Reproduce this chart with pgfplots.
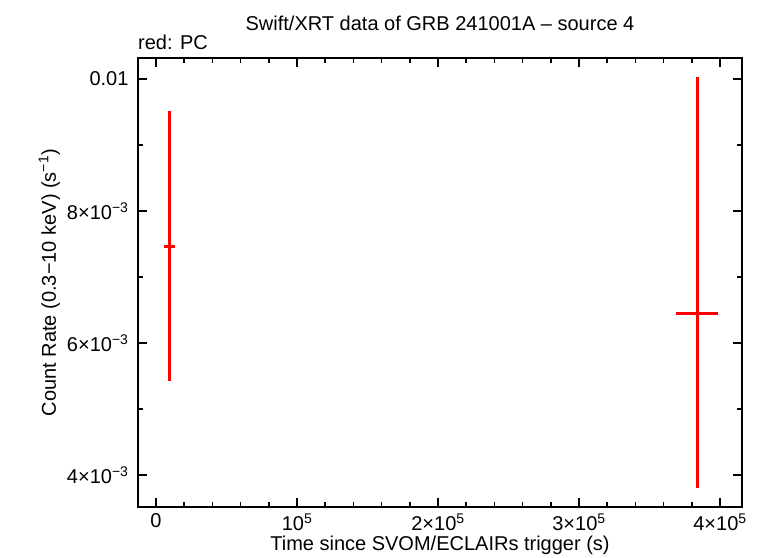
\documentclass[border=0pt]{standalone}
\usepackage{fontspec}
\setmainfont{Liberation Sans}
\usepackage{pgfplots}
\pgfplotsset{compat=1.18}
\usetikzlibrary{calc}
\begin{document}
\begin{tikzpicture}
\begin{axis}[
  scale only axis,
  width=604pt, height=449pt,
  xmin=-12800, xmax=415600,
  ymin=0.003515, ymax=0.01032,
  axis line style={line width=2.5pt},
  every tick/.style={black, line width=1.5pt},
  tick align=inside,
  major tick length=9pt, minor tick length=5pt,
  xtick={0,100000,200000,300000,400000},
  xticklabels={0, 10\textsuperscript{5}, 2×10\textsuperscript{5}, 3×10\textsuperscript{5}, 4×10\textsuperscript{5}},
  minor x tick num=4,
  ytick={0.004,0.006,0.008,0.01},
  yticklabels={4×10\textsuperscript{−3}, 6×10\textsuperscript{−3}, 8×10\textsuperscript{−3}, 0.01},
  minor ytick={0.005,0.007,0.009},
  scaled x ticks=false, scaled y ticks=false,
  tick label style={font=\fontsize{20}{22}\selectfont},
  xticklabel style={yshift=-3pt},
  yticklabel style={xshift=-6pt},
  label style={font=\fontsize{20}{22}\selectfont},
  xlabel={Time since SVOM/ECLAIRs trigger (s)},
  ylabel={Count Rate (0.3−10 keV) (s\textsuperscript{−1})},
  xlabel style={yshift=2pt},
  ylabel style={yshift=0pt},
  title={Swift/XRT data of GRB 241001A – source 4},
  title style={font=\fontsize{20}{22}\selectfont, yshift=18pt},
  clip=false,
]
\addplot[draw=none, mark=none,
  error bars/.cd, x dir=both, x explicit, y dir=both, y explicit,
  error bar style={red, line width=2.5pt}, error mark=none]
  table[x=x, y=y, x error=ex, y error plus=eyp, y error minus=eym] {
x y ex eyp eym
9430 0.007465 4000 0.002045 0.002045
383900 0.00645 14900 0.003576 0.002647
};
\node[anchor=south west, inner sep=0pt, font=\fontsize{20}{22}\selectfont] at (rel axis cs:0,1) [yshift=8pt] {red: PC};
\end{axis}
\path ($(current axis.south west)+(-138pt,-51pt)$) rectangle ($(current axis.north east)+(15pt,58pt)$);
\end{tikzpicture}
\end{document}
